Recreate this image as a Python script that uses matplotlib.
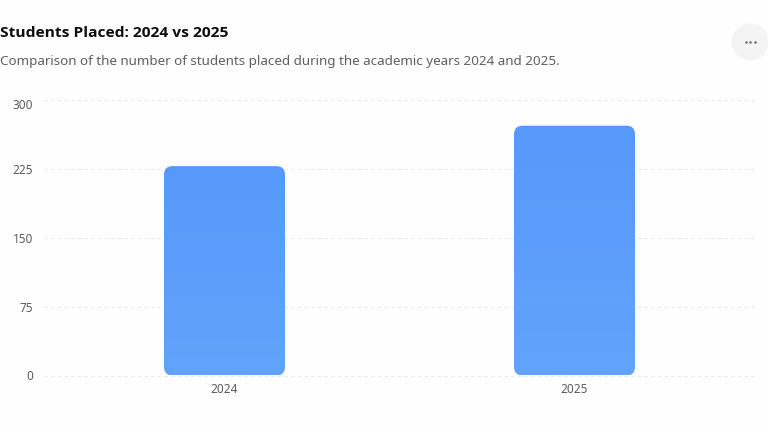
import numpy as np
import matplotlib
matplotlib.use("Agg")
import matplotlib.pyplot as plt
from matplotlib.colors import LinearSegmentedColormap
from matplotlib.patches import FancyBboxPatch, Circle
from matplotlib.transforms import ScaledTranslation

categories = ["2024", "2025"]
students_placed = [228, 272]
y_ticks = [0, 75, 150, 225, 300]
title = "Students Placed: 2024 vs 2025"
subtitle = "Comparison of the number of students placed during the academic years 2024 and 2025."

W, H = 768, 432
BG = "#fefefe"
plt.rcParams["font.family"] = ["Noto Sans", "DejaVu Sans"]
fig = plt.figure(figsize=(W / 100, H / 100), dpi=100, facecolor=BG)

left, right, top, bottom = 44, 756, 100, 375.5
ax = fig.add_axes([left / W, 1 - bottom / H, (right - left) / W, (bottom - top) / H])
ax.set_facecolor("none")
ax.set_ylim(0, 300)
ax.set_xlim((left - 224.5) / 350, (right - 224.5) / 350)
for s in ax.spines.values():
    s.set_visible(False)
ax.set_yticks(y_ticks)
ax.set_xticks(range(len(categories)), categories)
ax.tick_params(axis="both", length=0, labelsize=8.5, labelcolor="#5c5c5c")
ax.tick_params(axis="y", pad=8)
ax.tick_params(axis="x", pad=5.5)
ax.grid(axis="y", color="#eaeaea", linewidth=0.8, linestyle=(0, (3, 3)), clip_on=False)
ax.set_axisbelow(True)
# the top tick label sits a little below its gridline
top_label = ax.get_yticklabels()[-1]
top_label.set_transform(top_label.get_transform() + ScaledTranslation(0, -2.7 / 72, fig.dpi_scale_trans))

bar_w = 121 / 350
rx = 8.5 / 350
ry = 8.5 * 300 / 275
cmap = LinearSegmentedColormap.from_list("bar", ["#5699fa", "#62a3fb"])
grad = np.linspace(0, 1, 256).reshape(-1, 1)
xlim, ylim = ax.get_xlim(), ax.get_ylim()
for i, v in enumerate(students_placed):
    patch = FancyBboxPatch(
        (i - bar_w / 2, 0), bar_w, v,
        boxstyle=f"round,pad=0,rounding_size={rx}",
        mutation_aspect=ry / rx, linewidth=0, facecolor="none",
        clip_on=False, zorder=3,
    )
    ax.add_patch(patch)
    im = ax.imshow(grad, extent=(i - bar_w / 2, i + bar_w / 2, 0, v), origin="upper",
                   cmap=cmap, aspect="auto", zorder=3, interpolation="bilinear")
    im.set_clip_path(patch)
ax.set_xlim(xlim)
ax.set_ylim(ylim)

fig.text(0, 1 - 33 / H, title, fontsize=11.15, fontweight="bold", family=["Open Sans", "DejaVu Sans"],
         color="#0d0d0d", va="center", ha="left")
fig.text(0, 1 - 62 / H, subtitle, fontsize=9.65, color="#5f5f5f", va="center", ha="left")

ov = fig.add_axes([0, 0, 1, 1], facecolor="none")
ov.set_xlim(0, W)
ov.set_ylim(H, 0)
ov.axis("off")
ov.add_patch(Circle((750, 42), 18.5, facecolor="#f4f4f4", edgecolor="none"))
ov.scatter([745.5, 750, 754.5], [41.7, 41.7, 41.7], s=3.2, color="#666666", linewidths=0)

fig.savefig("out.png", dpi=100, facecolor=BG)
